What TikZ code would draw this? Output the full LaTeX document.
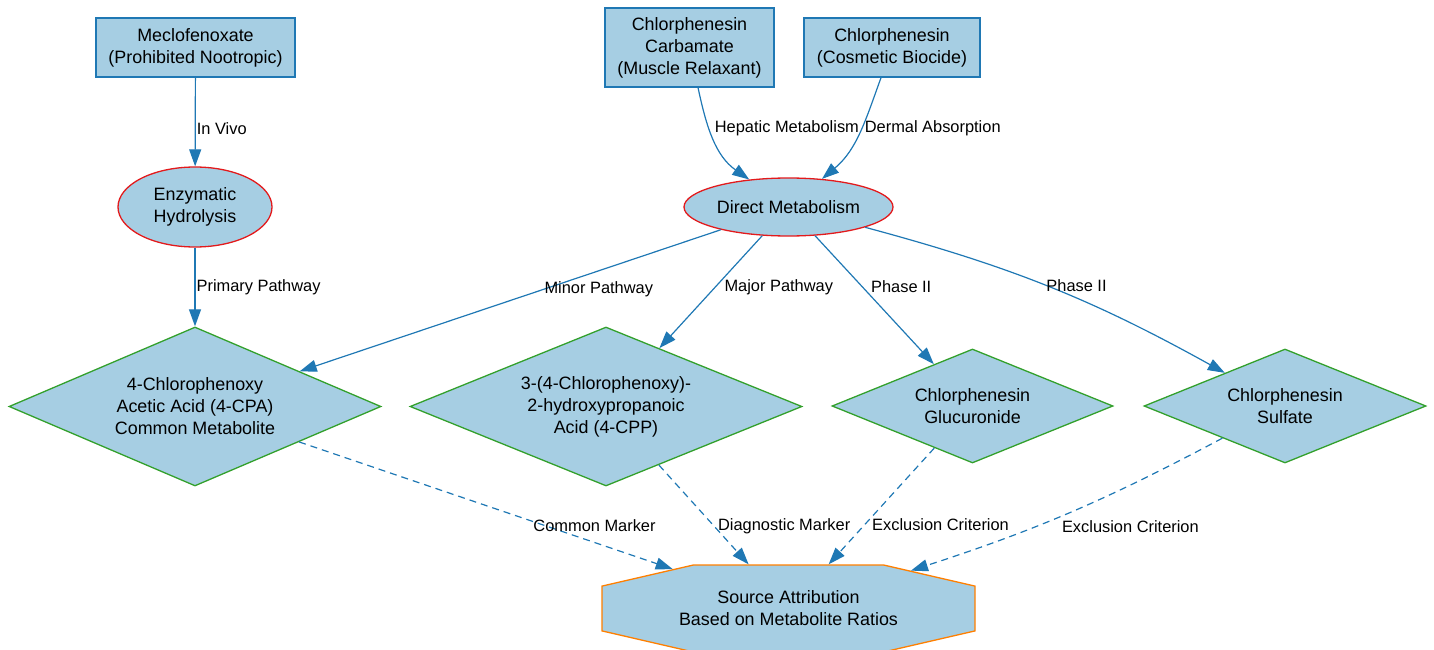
\documentclass[tikz,border=0pt]{standalone}
\usepackage{fontspec}
\setmainfont{Liberation Sans}
\usetikzlibrary{shapes.geometric, shapes.misc, arrows.meta}

\definecolor{paleblue}{HTML}{A6CEE3}
\definecolor{linkblue}{HTML}{1F78B4}
\definecolor{procred}{HTML}{E31A1C}
\definecolor{metagreen}{HTML}{33A02C}
\definecolor{resorange}{HTML}{FF7F00}

\tikzstyle{box base}=[fill=paleblue, line width=1.3pt, inner sep=0pt, align=center, font=\fontsize{17.9}{22}\selectfont]
\tikzstyle{source}=[box base, rectangle, draw=linkblue]
\tikzstyle{process}=[box base, ellipse, draw=procred]
\tikzstyle{metabolite}=[box base, diamond, shape aspect=2.4, draw=metagreen]
\tikzstyle{verdict}=[box base, chamfered rectangle, chamfered rectangle angle=77, chamfered rectangle xsep=108pt, draw=resorange]
\tikzstyle{edge} = [draw, linkblue, line width=1.2pt, -{Triangle[length=17pt, width=12pt]}]
\tikzstyle{marker edge} = [edge, dash pattern=on 7pt off 5pt]
\tikzstyle{lbl} = [font=\fontsize{16.4}{19}\selectfont, text=black, inner sep=1pt]

\begin{document}
\begin{tikzpicture}[x=1pt, y=-1pt]
    \useasboundingbox (0,0) rectangle (1434,650);
    % sources
    \node[source, minimum width=199pt, minimum height=59pt] (mecl) at (195.5,47.5) {Meclofenoxate\\(Prohibited Nootropic)};
    \node[source, minimum width=169pt, minimum height=79pt] (carb) at (689.5,47.5) {Chlorphenesin\\Carbamate\\(Muscle Relaxant)};
    \node[source, minimum width=176pt, minimum height=59pt] (bio) at (892,47.5) {Chlorphenesin\\(Cosmetic Biocide)};
    % processes
    \node[process, minimum width=154pt, minimum height=80pt] (enz) at (195,207) {Enzymatic\\Hydrolysis};
    \node[process, minimum width=209pt, minimum height=58pt] (direct) at (788.5,207) {Direct Metabolism};
    % metabolites
    \node[metabolite, minimum width=372pt, minimum height=159pt] (cpa) at (195,406.5) {4-Chlorophenoxy\\Acetic Acid (4-CPA)\\Common Metabolite};
    \node[metabolite, minimum width=392pt, minimum height=159pt] (cpp) at (606,406.5) {3-(4-Chlorophenoxy)-\\2-hydroxypropanoic\\Acid (4-CPP)};
    \node[metabolite, minimum width=281pt, minimum height=114pt] (gluc) at (972.5,406) {Chlorphenesin\\Glucuronide};
    \node[metabolite, minimum width=282pt, minimum height=114pt] (sulf) at (1285,406) {Chlorphenesin\\Sulfate};
    % outcome
    \node[verdict, minimum width=373pt, minimum height=87pt] (attr) at (788.5,608.5) {Source Attribution\\Based on Metabolite Ratios};

    \foreach \source/\dest/\where/\txt in {mecl/enz/0.57/In Vivo, enz/cpa/0.5/Primary Pathway}
        \path[edge] (\source) -- node[lbl, pos=\where, anchor=west] {\txt} (\dest);
    \path[edge] (carb) to[out=-78, in=145] node[lbl, pos=0.38, anchor=west, xshift=4pt] {Hepatic Metabolism} (direct);
    \path[edge] (bio) to[out=250, in=40] node[lbl, pos=0.45, anchor=west, xshift=2pt] {Dermal Absorption} (direct);
    \path[edge] (direct) -- node[lbl, pos=0.29, yshift=-18pt] {Minor Pathway} (cpa);
    \path[edge] (direct) -- node[lbl, pos=0.46, anchor=west, xshift=8pt] {Major Pathway} (cpp);
    \path[edge] (direct) -- node[lbl, pos=0.4, anchor=west, xshift=7pt] {Phase II} (gluc);
    \path[edge] (direct) to[bend left=7] node[lbl, pos=0.58, anchor=south, yshift=5pt] {Phase II} (sulf);
    % markers
    \path[marker edge] (cpa) -- node[lbl, pos=0.78, xshift=4pt, yshift=15pt] {Common Marker} (attr);
    \path[marker edge] (cpp) -- node[lbl, pos=0.62, anchor=west, xshift=2pt] {Diagnostic Marker} (attr);
    \path[marker edge] (gluc) -- node[lbl, pos=0.66, anchor=west, xshift=6pt] {Exclusion Criterion} (attr);
    \path[marker edge] (sulf) to[bend left=5] node[lbl, pos=0.62, anchor=west, xshift=25pt] {Exclusion Criterion} (attr);
\end{tikzpicture}
\end{document}
